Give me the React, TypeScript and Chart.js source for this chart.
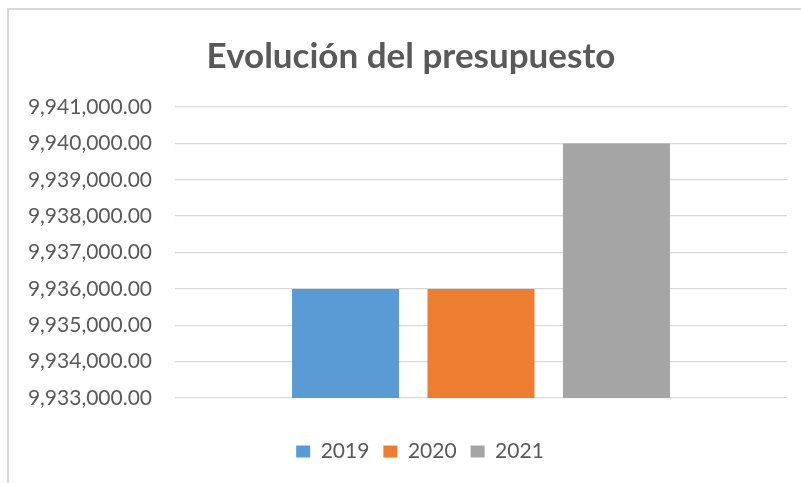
import React, { useEffect, useRef } from "react";
import { Chart, registerables } from "chart.js";

Chart.register(...registerables);

const categories = [""];
const seriesNames = ["2019", "2020", "2021"];
const seriesValues = [[9936000], [9936000], [9940000]];
const seriesColors = ["#5b9bd5", "#ed7d31", "#a5a5a5"];
const yMin = 9933000;
const yMax = 9941000;
const yStep = 1000;
const titleText = "Evolución del presupuesto";

const boxShift = {
  id: "boxShift",
  afterLayout(chart: any) {
    if (chart.legend) {
      chart.legend.left += 22;
      chart.legend.right += 22;
    }
    if (chart.titleBlock) {
      chart.titleBlock.left += 13;
      chart.titleBlock.right += 13;
    }
  },
};

export default function App() {
  const ref = useRef<HTMLCanvasElement | null>(null);

  useEffect(() => {
    if (!ref.current) return;
    const chart = new Chart(ref.current, {
      type: "bar",
      data: {
        labels: categories,
        datasets: seriesNames.map((name, i) => ({
          label: name,
          data: seriesValues[i],
          backgroundColor: seriesColors[i],
          borderWidth: 0,
          categoryPercentage: 0.664,
          barPercentage: 0.79,
        })),
      },
      plugins: [boxShift],
      options: {
        responsive: false,
        animation: false,
        layout: { padding: { left: 0, right: 14, top: 0, bottom: 11 } },
        plugins: {
          title: {
            display: true,
            text: titleText,
            color: "#595959",
            font: { family: "Lato", size: 35, weight: "bold", lineHeight: 1.2 },
            padding: { top: 26, bottom: 29 },
          },
          legend: {
            position: "bottom",
            labels: {
              color: "#595959",
              font: { family: "Lato", size: 21 },
              boxWidth: 14,
              boxHeight: 12,
              padding: 14,
            },
          },
          tooltip: { enabled: false },
        },
        scales: {
          x: {
            grid: { display: false },
            border: { display: false },
            ticks: { display: false },
            afterFit: (scale: any) => {
              scale.height = 29;
            },
          },
          y: {
            min: yMin,
            max: yMax,
            grid: { color: "#d9d9d9", lineWidth: 1.3, drawTicks: false },
            border: { display: false },
            ticks: {
              stepSize: yStep,
              padding: 23,
              color: "#595959",
              font: { family: "Lato", size: 21 },
              callback: (v: any) =>
                Number(v).toLocaleString("en-US", {
                  minimumFractionDigits: 2,
                  maximumFractionDigits: 2,
                }),
            },
            afterFit: (scale: any) => {
              scale.width = 166;
            },
          },
        },
      },
    });
    return () => chart.destroy();
  }, []);

  return (
    <div
      style={{
        position: "absolute",
        left: 7,
        top: 8,
        width: 794,
        height: 475,
        boxSizing: "border-box",
        borderLeft: "2px solid #d9d9d9",
        borderTop: "2px solid #d9d9d9",
        background: "#fff",
      }}
    >
      <canvas ref={ref} width={792} height={473} style={{ display: "block", width: 792, height: 473 }} />
    </div>
  );
}
